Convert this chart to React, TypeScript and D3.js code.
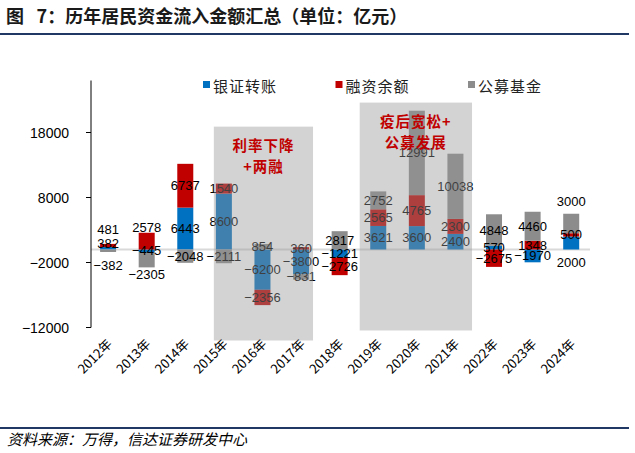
import React from 'react';
import * as d3 from 'd3';

const years = ['2012年', '2013年', '2014年', '2015年', '2016年', '2017年', '2018年', '2019年', '2020年', '2021年', '2022年', '2023年', '2024年'];
const bankTransfer = [382, -445, 6443, 8600, -6200, -3800, -1221, 3621, 3600, 2400, 570, -1970, 2000];
const marginBalance = [481, 2578, 6737, 1540, -2356, 360, -2726, 2565, 4765, 2300, -2675, 1348, 500];
const publicFunds = [-382, -2305, -2048, -2111, 854, -831, 2817, 2752, 12991, 10038, 4848, 4460, 3000];
const seriesNames = ['银证转账', '融资余额', '公募基金'];
const yTicks = [18000, 8000, -2000, -12000];
const titleText = '图\u2002\u20097：历年居民资金流入金额汇总（单位：亿元）';
const sourceText = '资料来源：万得，信达证券研发中心';

const annotations = [
  { from: '2015年', to: '2017年', top: 18900, bottom: -14000, padL: 0.26, padR: 0.31, lines: ['利率下降', '+两融'] },
  { from: '2019年', to: '2021年', top: 22600, bottom: -12460, padL: 0.48, padR: 0.43, lines: ['疫后宽松+', '公募发展'] },
];

// label nudges (px) for labels moved away from segment centres in the original
const labelNudge: Record<string, number> = {
  '2012年|融资余额': -16,
  '2012年|银证转账': -5,
  '2012年|公募基金': 15,
  '2013年|融资余额': -14,
  '2013年|公募基金': 15,
  '2024年|公募基金': -22,
  '2024年|银证转账': 19,
};

const colors = ['#0070C0', '#C00000', '#8C8C8C'];
const W = 635;
const H = 453;
const numFont = '"Liberation Sans", Arial, sans-serif';
const cjkFont = '"Noto Sans CJK SC", sans-serif';

export default function App() {
  const rows = years.map((y, i) => ({
    year: y,
    [seriesNames[0]]: bankTransfer[i],
    [seriesNames[1]]: marginBalance[i],
    [seriesNames[2]]: publicFunds[i],
  }));
  const stack = d3.stack<any>().keys(seriesNames).offset(d3.stackOffsetDiverging);
  const layers = stack(rows);

  const x = d3.scalePoint<string>().domain(years).range([88.8, 590.5]).padding(0.5);
  const step = x.step();
  const y = d3.scaleLinear().domain([-12000, 26000]).range([327.5, 80.5]);
  const barW = 16;
  const axisX = 91;
  const fmt = (v: number) => (v < 0 ? '−' + Math.abs(v) : String(v));

  return (
    <svg width={W} height={H} style={{ position: 'absolute', left: 0, top: 0, background: '#fff' }}>
      {/* title */}
      <text x={6} y={15} fontFamily={cjkFont} fontWeight={700} fontSize={18} fill="#1a1a1a" dominantBaseline="central">
        {titleText}
      </text>
      <line x1={0} x2={629} y1={34} y2={34} stroke="#1F3864" strokeWidth={2} />

      {/* legend */}
      {seriesNames.map((s, i) => {
        const lx = 203 + i * 132.5;
        return (
          <g key={s}>
            <rect x={lx} y={81} width={7} height={7} fill={colors[i]} />
            <text x={lx + 10} y={85} fontFamily={cjkFont} fontSize={15} fill="#222" dominantBaseline="central" letterSpacing={1}>
              {s}
            </text>
          </g>
        );
      })}

      {/* zero line */}
      <line x1={axisX} x2={590} y1={y(0)} y2={y(0)} stroke="#D9D9D9" strokeWidth={2} />

      {/* bars */}
      {layers.map((layer, si) => (
        <g key={layer.key}>
          {layer.map((d, i) => {
            const y0 = y(d[0]);
            const y1 = y(d[1]);
            return (
              <rect
                key={i}
                x={(x(years[i]) as number) - barW / 2}
                y={Math.min(y0, y1)}
                width={barW}
                height={Math.abs(y0 - y1)}
                fill={colors[si]}
              />
            );
          })}
        </g>
      ))}

      {/* labels */}
      {layers.map((layer) => (
        <g key={'l' + layer.key}>
          {layer.map((d, i) => {
            const v = (d.data as any)[layer.key] as number;
            const cy = (y(d[0]) + y(d[1])) / 2 + (labelNudge[years[i] + '|' + layer.key] || 0);
            return (
              <text
                key={i}
                x={x(years[i]) as number}
                y={cy}
                textAnchor="middle"
                dominantBaseline="central"
                fontFamily={numFont}
                fontSize={13}
                fill="#000"
              >
                {fmt(v)}
              </text>
            );
          })}
        </g>
      ))}

      {/* y axis */}
      <line x1={axisX} x2={axisX} y1={y.range()[1]} y2={y.range()[0]} stroke="#000" strokeWidth={1} />
      {yTicks.map((t) => (
        <g key={t}>
          <line x1={axisX - 5} x2={axisX} y1={y(t)} y2={y(t)} stroke="#000" />
          <text x={69} y={y(t)} textAnchor="end" dominantBaseline="central" fontFamily={numFont} fontSize={14} fill="#000">
            {fmt(t)}
          </text>
        </g>
      ))}

      {/* x labels */}
      {years.map((yr) => (
        <text
          key={yr}
          transform={`translate(${(x(yr) as number) + 1},${341}) rotate(-45)`}
          textAnchor="end"
          dominantBaseline="central"
          fontFamily={cjkFont}
          fontSize={13}
          fill="#000"
        >
          {yr}
        </text>
      ))}

      {/* shaded annotation boxes */}
      {annotations.map((a, i) => {
        const x0 = (x(a.from) as number) - a.padL * step;
        const x1 = (x(a.to) as number) + a.padR * step;
        const yt = y(a.top);
        const yb = y(a.bottom);
        return (
          <g key={i}>
            <rect x={x0} y={yt} width={x1 - x0} height={yb - yt} fill="rgb(150,150,150)" fillOpacity={0.42} />
            {a.lines.map((ln, j) => (
              <text
                key={j}
                x={(x0 + x1) / 2}
                y={yt + 18 + j * 21}
                textAnchor="middle"
                dominantBaseline="central"
                fontFamily={cjkFont}
                fontWeight={600}
                fontSize={14.5}
                fill="#C00000"
                letterSpacing={1}
              >
                {ln}
              </text>
            ))}
          </g>
        );
      })}

      {/* source */}
      <line x1={0} x2={629} y1={428} y2={428} stroke="#1F3864" strokeWidth={2} />
      <text x={7} y={438} fontFamily={cjkFont} fontStyle="italic" fontSize={15} fill="#000" dominantBaseline="central">
        {sourceText}
      </text>
    </svg>
  );
}
